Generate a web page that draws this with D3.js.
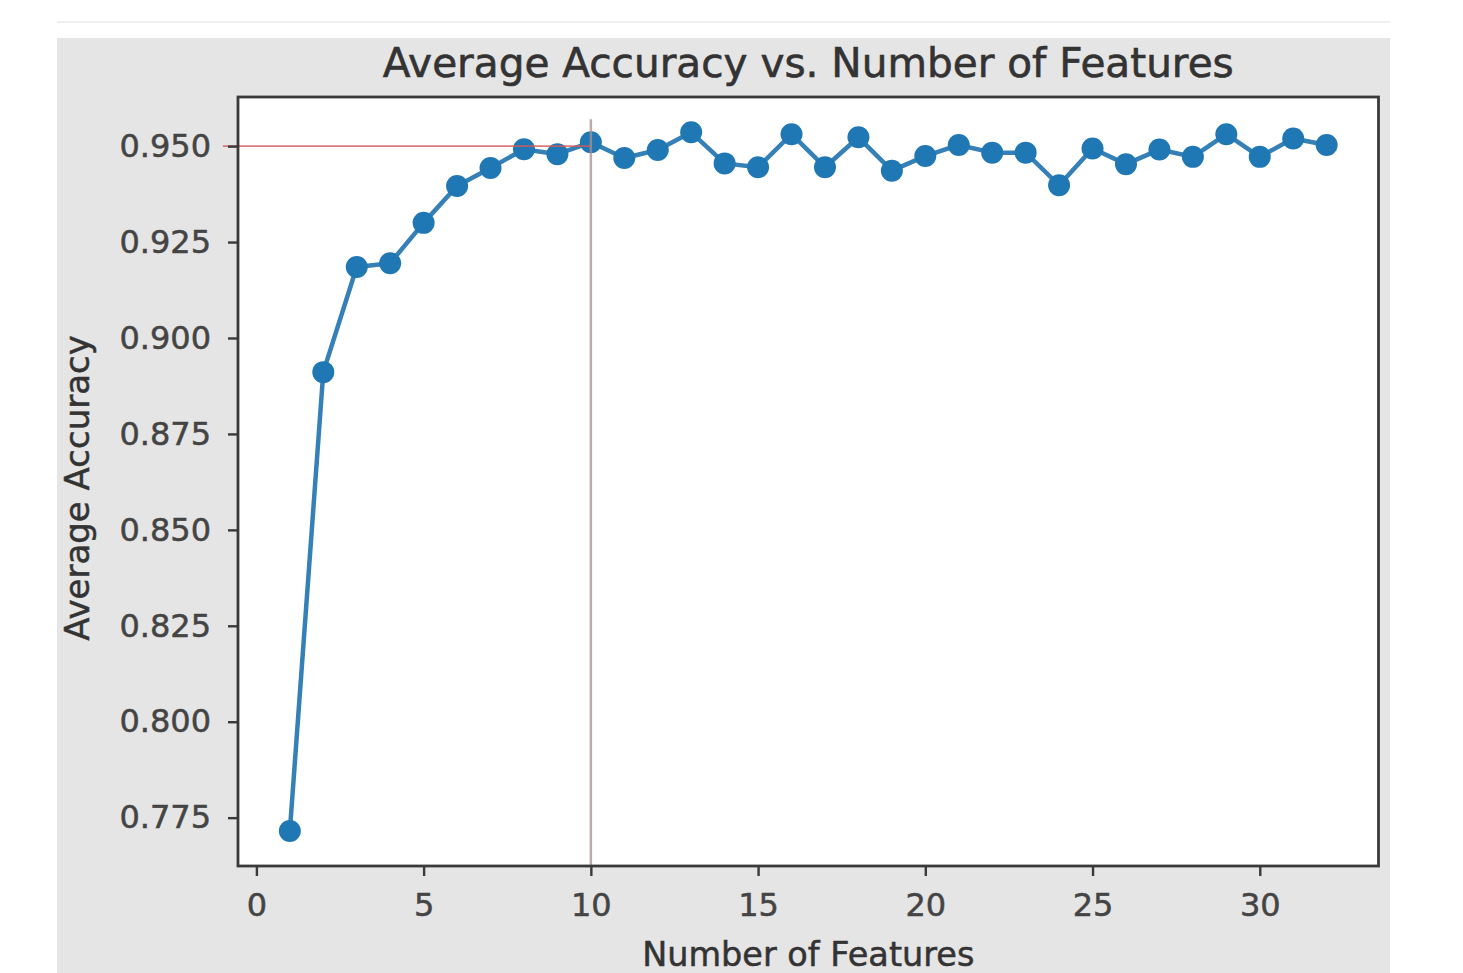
<!DOCTYPE html>
<html>
<head>
<meta charset="utf-8">
<script src="https://cdn.jsdelivr.net/npm/d3@7"></script>
<style>
  body { margin: 0; background: #fff; }
  svg { display: block; font-family: "DejaVu Sans", sans-serif; }
</style>
</head>
<body>
<div id="chart"></div>
<script>
// number of features used, and the mean accuracy for each
var features = [1, 2, 3, 4, 5, 6, 7, 8, 9, 10, 11, 12, 13, 14, 15, 16,
    17, 18, 19, 20, 21, 22, 23, 24, 25, 26, 27, 28, 29, 30, 31, 32];
var accuracy = [0.7715, 0.8911, 0.9185, 0.9195, 0.9300, 0.9396, 0.9443, 0.9492,
    0.9479, 0.9510, 0.9469, 0.9490, 0.9536, 0.9455, 0.9445, 0.9531,
    0.9445, 0.9523, 0.9436, 0.9474, 0.9503, 0.9483, 0.9483, 0.9398,
    0.9494, 0.9453, 0.9491, 0.9472, 0.9531, 0.9472, 0.9520, 0.9503];

var xTicks = [0, 5, 10, 15, 20, 25, 30];
var yTicks = [0.775, 0.800, 0.825, 0.850, 0.875, 0.900, 0.925, 0.950];

// reference lines (chosen number of features / target accuracy)
var bestK = 10;
var target = 0.950;

var W = 1463, H = 973;
// plot box (note: "top" is a reserved window prop, so use pl/pr/pt/pb)
var pl = 238, pr = 1378.5, pt = 97, pb = 866;

var svg = d3.select("#chart").append("svg")
    .attr("width", W)
    .attr("height", H);

// figure background
svg.append("line")
    .attr("x1", 57).attr("x2", 1390)
    .attr("y1", 22).attr("y2", 22)
    .attr("stroke", "#efefef")
    .attr("stroke-width", 2);

svg.append("rect")
    .attr("x", 57).attr("y", 38)
    .attr("width", 1390 - 57).attr("height", H - 38)
    .attr("fill", "#e5e5e5");

svg.append("rect")
    .attr("x", pl).attr("y", pt)
    .attr("width", pr - pl).attr("height", pb - pt)
    .attr("fill", "#fff");

var x = d3.scaleLinear().domain([-0.55, 33.55]).range([pl, pr]);
var y = d3.scaleLinear().domain([0.7624, 0.9628]).range([pb, pt]);

var pts = features.map(function(f, i){ return {f: f, a: accuracy[i]}; });

var line = d3.line()
    .x(function(d){ return x(d.f); })
    .y(function(d){ return y(d.a); });

svg.append("path")
    .datum(pts)
    .attr("d", line)
    .attr("fill", "none")
    .attr("stroke", "#3580b6")
    .attr("stroke-width", 4.5)
    .attr("stroke-linejoin", "round");

svg.selectAll("circle.pt")
    .data(pts)
    .enter().append("circle")
    .attr("class", "pt")
    .attr("cx", function(d){ return x(d.f); })
    .attr("cy", function(d){ return y(d.a); })
    .attr("r", 11)
    .attr("fill", "#1f77b4");

// reference lines
svg.append("line")
    .attr("x1", x(-1)).attr("x2", x(bestK))
    .attr("y1", y(target)).attr("y2", y(target))
    .attr("stroke", "#d45a5a")
    .attr("stroke-opacity", 0.8)
    .attr("stroke-width", 1.8);

svg.append("line")
    .attr("x1", x(bestK)).attr("x2", x(bestK))
    .attr("y1", y(0.957)).attr("y2", y.range()[0])
    .attr("stroke", "#a88f8f")
    .attr("stroke-opacity", 0.75)
    .attr("stroke-width", 2.5);

// axes
var xAxis = d3.axisBottom(x).tickValues(xTicks).tickSize(10).tickPadding(17)
    .tickFormat(d3.format("d"));
var yAxis = d3.axisLeft(y).tickValues(yTicks).tickSize(10).tickPadding(17)
    .tickFormat(d3.format(".3f"));

var gx = svg.append("g")
    .attr("transform", "translate(0," + pb + ")")
    .call(xAxis);
var gy = svg.append("g")
    .attr("transform", "translate(" + pl + ",0)")
    .call(yAxis);

[gx, gy].forEach(function(g){
    g.select(".domain").remove();
    g.selectAll(".tick line").attr("stroke", "#3a3a3a").attr("stroke-width", 2.4);
    g.selectAll(".tick text")
        .attr("fill", "#444")
        .attr("stroke", "#444")
        .attr("stroke-width", 0.5)
        .style("font-size", "32px")
        .style("font-family", "DejaVu Sans, sans-serif");
});

// frame
svg.append("rect")
    .attr("x", pl).attr("y", pt)
    .attr("width", pr - pl).attr("height", pb - pt)
    .attr("fill", "none")
    .attr("stroke", "#3a3a3a")
    .attr("stroke-width", 2.8);

// titles
svg.append("text")
    .attr("x", (pl + pr) / 2)
    .attr("y", 77)
    .attr("text-anchor", "middle")
    .attr("fill", "#333")
    .attr("stroke", "#333")
    .attr("stroke-width", 0.6)
    .style("font-size", "40.6px")
    .text("Average Accuracy vs. Number of Features");

svg.append("text")
    .attr("x", (pl + pr) / 2)
    .attr("y", 966)
    .attr("text-anchor", "middle")
    .attr("fill", "#333")
    .attr("stroke", "#333")
    .attr("stroke-width", 0.5)
    .style("font-size", "33.5px")
    .text("Number of Features");

svg.append("text")
    .attr("transform", "translate(89,488) rotate(-90)")
    .attr("text-anchor", "middle")
    .attr("fill", "#333")
    .attr("stroke", "#333")
    .attr("stroke-width", 0.5)
    .style("font-size", "34px")
    .text("Average Accuracy");
</script>
</body>
</html>
